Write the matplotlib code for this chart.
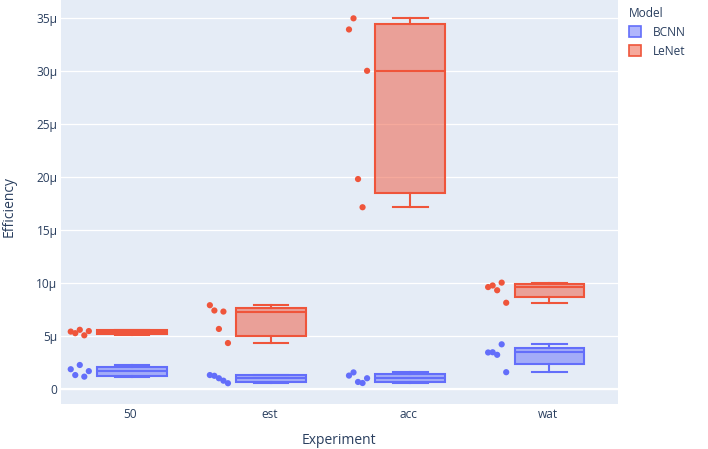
import matplotlib.pyplot as plt
import matplotlib.colors as mcolors
from matplotlib.patches import Patch
import numpy as np

# values in micro-units, listed in the left-to-right order of the jittered points
experiments = ['50', 'est', 'acc', 'wat']
bcnn = [
    [1.9, 1.35, 2.3, 1.2, 1.72],
    [1.35, 1.28, 1.05, 0.82, 0.58],
    [1.3, 1.6, 0.7, 0.6, 1.05],
    [3.48, 3.5, 3.26, 4.25, 1.62],
]
lenet = [
    [5.45, 5.3, 5.62, 5.1, 5.5],
    [7.94, 7.44, 5.7, 7.34, 4.37],
    [33.95, 35.0, 19.84, 17.18, 30.05],
    [9.65, 9.8, 9.35, 10.07, 8.17],
]
yticks = [0, 5, 10, 15, 20, 25, 30, 35]

BLUE = '#636EFA'
RED = '#EF553B'
TEXT = '#2a3f5f'
FONT = ['Open Sans', 'DejaVu Sans']

plt.rcParams['font.family'] = FONT

W, H = 708, 449
fig = plt.figure(figsize=(W / 100, H / 100), dpi=100)
ax = fig.add_axes([61 / W, 1 - 404 / H, (617.5 - 61) / W, 404 / H])
ax.set_facecolor('#E5ECF6')


def box_stats(vals):
    v = np.asarray(vals)
    q1, med, q3 = np.percentile(v, [25, 50, 75], method='weibull')
    return dict(med=med, q1=q1, q3=q3, whislo=v.min(), whishi=v.max(), fliers=[])


def draw_series(data, color):
    stats = [box_stats(d) for d in data]
    pos = np.arange(len(data)) + 0.01
    ax.bxp(stats, positions=pos, widths=0.5, capwidths=0.25, patch_artist=True,
           showfliers=False,
           boxprops=dict(facecolor=mcolors.to_rgba(color, 0.5), edgecolor=color, linewidth=1.5),
           medianprops=dict(color=color, linewidth=1.5),
           whiskerprops=dict(color=color, linewidth=1.5),
           capprops=dict(color=color, linewidth=1.5),
           zorder=3)
    offs = np.linspace(-0.43, -0.30, 5)
    for i, d in enumerate(data):
        ax.scatter(i + offs[:len(d)], d, s=20, color=color, edgecolors='none', zorder=4)


draw_series(bcnn, BLUE)
draw_series(lenet, RED)

ax.set_xlim(-0.5, 3.5)
ax.set_ylim(-1.38, 36.73)
ax.set_xticks(range(len(experiments)))
ax.set_xticklabels(experiments)
ax.set_yticks(yticks)
ax.set_yticklabels([('0' if t == 0 else f'{t}μ') for t in yticks])
ax.tick_params(length=0, labelsize=8.6, labelcolor=TEXT)
ax.tick_params(axis='y', pad=2.5)
ax.tick_params(axis='x', pad=3)
for s in ax.spines.values():
    s.set_visible(False)
ax.grid(axis='y', color='white', linewidth=0.9)
ax.axhline(0, color='white', linewidth=1.6, zorder=1)
ax.set_axisbelow(True)

fig.text(339 / W, 1 - 440 / H, 'Experiment', ha='center', va='center', fontsize=10, color=TEXT)
fig.text(9 / W, 1 - 206 / H, 'Efficiency', ha='center', va='center', rotation=90,
         fontsize=10, color=TEXT)

handles = [Patch(facecolor=mcolors.to_rgba(BLUE, 0.5), edgecolor=BLUE, linewidth=1.2, label='BCNN'),
           Patch(facecolor=mcolors.to_rgba(RED, 0.5), edgecolor=RED, linewidth=1.2, label='LeNet')]
leg = fig.legend(handles=handles, loc='upper left', bbox_to_anchor=(624 / W, 1 - 2 / H),
                 title='Model', frameon=False, fontsize=8.6, title_fontsize=8.6,
                 alignment='left', handlelength=1.0, handleheight=1.0, handletextpad=1.0,
                 labelspacing=0.5, borderaxespad=0)
for t in leg.get_texts():
    t.set_color(TEXT)
leg.get_title().set_color(TEXT)

fig.savefig('out.png', dpi=100, facecolor='white')
